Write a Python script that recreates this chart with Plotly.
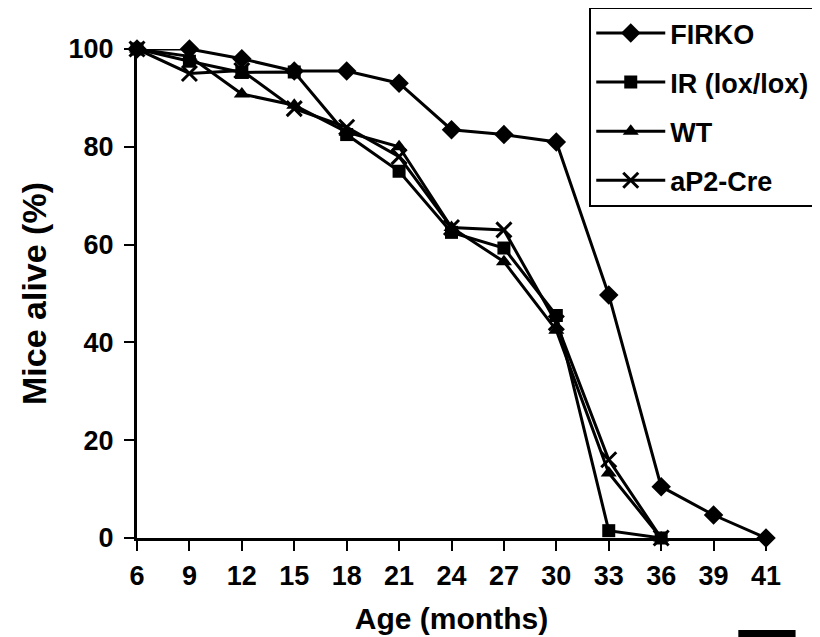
import plotly.graph_objects as go

ages = ['6', '9', '12', '15', '18', '21', '24', '27', '30', '33', '36', '39', '41']
firko = [100, 100, 98, 95.5, 95.5, 93, 83.5, 82.5, 81, 49.7, 10.5, 4.7, 0]
ir_lox = [100, 97.5, 95.2, 95.3, 82.5, 75, 62.5, 59.3, 45.5, 1.5, 0]
wt = [100, 98.5, 90.8, 88.5, 83, 80, 63.5, 56.5, 42.5, 13.3, 0]
ap2_cre = [100, 95, 95.6, 87.8, 84, 78, 63.5, 63, 44, 16, 0]

names = ['FIRKO', 'IR (lox/lox)', 'WT', 'aP2-Cre']
series = [firko, ir_lox, wt, ap2_cre]
symbols = ['diamond', 'square', 'triangle-up', 'x-thin']
sizes = [15, 13, 14, 15]

FONT = 'Liberation Sans, Arial, sans-serif'

fig = go.Figure()
for i, (nm, ys, sym, sz) in enumerate(zip(names, series, symbols, sizes)):
    marker = dict(symbol=sym, size=sz, color='black',
                  line=dict(color='black', width=3 if sym == 'x-thin' else 0))
    fig.add_trace(go.Scatter(
        x=ages[:len(ys)], y=ys, name=nm, mode='lines+markers',
        line=dict(color='black', width=3), marker=marker,
        cliponaxis=False, legendgroup=nm))

fig.update_layout(
    width=820, height=637,
    margin=dict(l=129, r=62, t=41, b=107, autoexpand=False),
    paper_bgcolor='white', plot_bgcolor='white',
    font=dict(family=FONT, size=27, color='black', weight='bold'),
    showlegend=True,
    legend=dict(x=0.719, y=1.086, xanchor='left', yanchor='top',
                bordercolor='black', borderwidth=2, bgcolor='white',
                itemwidth=69,
                font=dict(family=FONT, size=27, color='black', weight='bold'),
                tracegroupgap=11, traceorder='grouped'),
)
fig.update_xaxes(
    type='category', categoryorder='array', categoryarray=ages,
    range=[0, 12], showgrid=False, zeroline=False,
    showline=True, linecolor='black', linewidth=3,
    ticks='outside', ticklen=10, tickwidth=2, tickcolor='black',
    ticklabelstandoff=2, automargin=False,
    tickfont=dict(family=FONT, size=27, color='black', weight='bold'),
    title=dict(text='Age (months)', standoff=18,
               font=dict(family=FONT, size=30, color='black', weight='bold')),
)
fig.update_yaxes(
    range=[0, 100], tickvals=[0, 20, 40, 60, 80, 100],
    showgrid=False, zeroline=False,
    showline=True, linecolor='black', linewidth=3,
    ticks='outside', ticklen=10, tickwidth=2, tickcolor='black',
    ticklabelstandoff=5, automargin=False,
    tickfont=dict(family=FONT, size=27, color='black', weight='bold'),
    title=dict(text='Mice alive (%)', standoff=12,
               font=dict(family=FONT, size=34, color='black', weight='bold')),
)
fig.add_shape(type='rect', xref='paper', yref='paper',
              x0=0.956, x1=1.047, y0=-0.2025, y1=-0.188,
              fillcolor='black', line=dict(width=0))

fig.write_html('out.html')
